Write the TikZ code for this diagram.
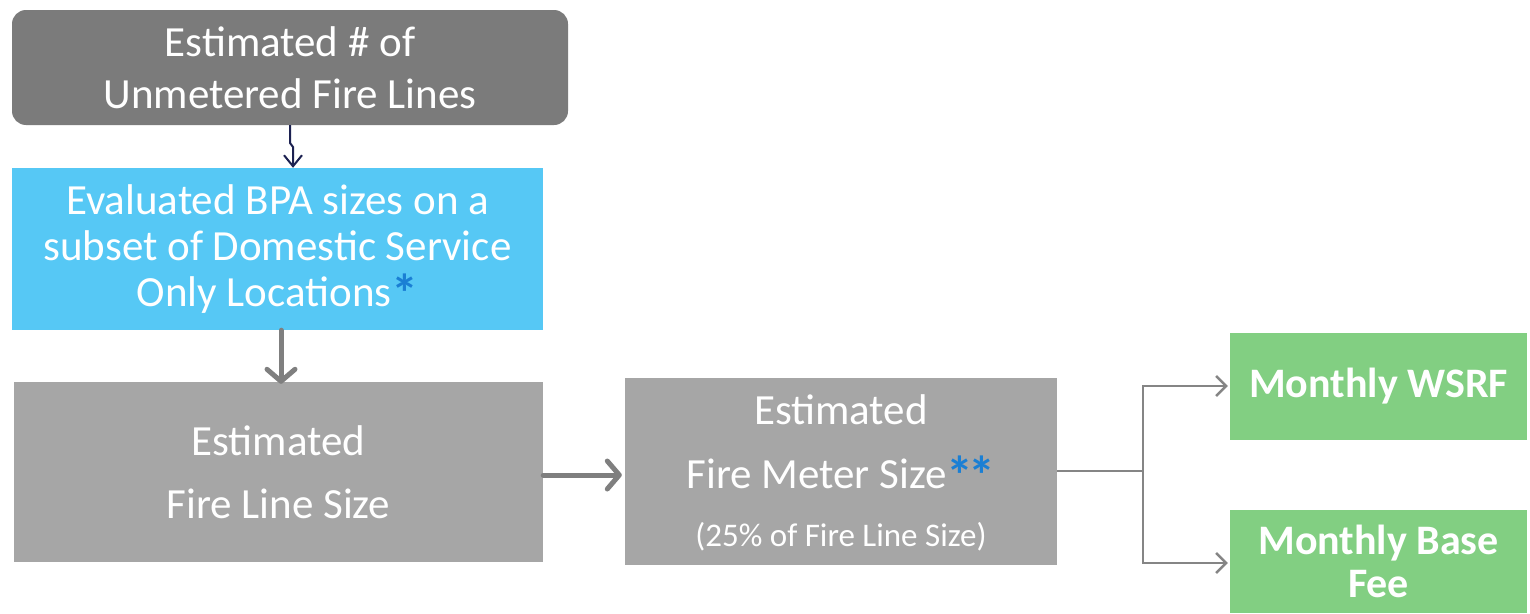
\documentclass[tikz,border=0pt]{standalone}
\usepackage{fontspec}
\setmainfont{Carlito}
\usetikzlibrary{arrows.meta}
\definecolor{darkbox}{HTML}{7B7B7B}
\definecolor{bluebox}{HTML}{56C8F5}
\definecolor{greybox}{HTML}{A6A6A6}
\definecolor{greenbox}{HTML}{82CF82}
\definecolor{starblue}{HTML}{1A7FD4}
\definecolor{navy}{HTML}{1C2151}
\definecolor{flowgrey}{HTML}{7F7F7F}
\definecolor{forkgrey}{HTML}{858585}
\tikzset{
  box/.style={inner sep=0pt, text=white, align=center, font=\fontsize{43}{46}\selectfont},
  thickflow/.style={draw=flowgrey, line width=5pt, line cap=round,
    -{Straight Barb[length=12pt, width=28pt, line cap=round, line join=round]}},
  forkflow/.style={draw=forkgrey, line width=2.5pt,
    -{Straight Barb[length=10pt, width=20pt]}},
  thinflow/.style={draw=navy, line width=2pt,
    -{Straight Barb[length=11pt, width=18pt]}}
}
% footnote marker: a larger bold blue asterisk
\newcommand{\bluestar}{\textcolor{starblue}{\bfseries\fontsize{54}{46}\selectfont\raisebox{-0.12em}{*}}}
\begin{document}
\begin{tikzpicture}[x=1pt, y=-1pt]
\useasboundingbox (0,0) rectangle (1530,613);
\fill[white] (0,0) rectangle (1530,613);

% boxes
\node[box, fill=darkbox, rounded corners=14pt, minimum width=556pt, minimum height=115pt,
  font=\fontsize{43}{52}\selectfont] (lines) at (290,67.5)
  {Estimated \# of\\Unmetered Fire Lines};
\node[box, fill=bluebox, minimum width=531pt, minimum height=162pt] (bpa) at (277.5,249)
  {Evaluated BPA sizes on a\\subset of Domestic Service\\Only Locations\bluestar};
\node[box, fill=greybox, minimum width=529pt, minimum height=180pt,
  font=\fontsize{43}{63}\selectfont] (linesize) at (278.5,472)
  {Estimated\\Fire Line Size};
\node[box, fill=greybox, minimum width=432pt, minimum height=187pt] (metersize) at (841,471.5) {};
\node[box, anchor=base] (m1) at (841,424) {Estimated};
\node[box, anchor=base] (m2) at (841,488) {Fire Meter Size\bluestar\kern-5pt\bluestar};
\node[box, anchor=base, font=\fontsize{33}{36}\selectfont] (m3) at (841,546) {(25\% of Fire Line Size)};
\node[box, fill=greenbox, minimum width=297pt, minimum height=107pt,
  font=\bfseries\fontsize{42}{44}\selectfont] (wsrf) at (1378.5,386.5) {Monthly WSRF};
\node[box, fill=greenbox, minimum width=297pt, minimum height=103pt,
  font=\bfseries\fontsize{42}{43}\selectfont] (base) at (1378.5,561.5) {Monthly Base\\Fee};

% connectors
\coordinate (j1) at (290,143);
\coordinate (j2) at (293,147);
\draw[thinflow] (lines.south -| j1) -- (j1) -- (j2) -- (j2 |- bpa.north);
\draw[thickflow] (bpa.south -| 281,0) -- ([yshift=-2pt]linesize.north -| 281,0);
\draw[thickflow] (linesize.east |- 0,475) -- ([xshift=-3pt]metersize.west |- 0,475);
\coordinate (fork) at (1143,471);
\draw[draw=forkgrey, line width=2.5pt] (metersize.east |- fork) -- (fork);
\draw[forkflow] (fork) -- (fork |- 0,386) -- ([xshift=-2pt]wsrf.west |- 0,386);
\draw[forkflow] (fork) -- (fork |- 0,563) -- ([xshift=-2pt]base.west |- 0,563);
\end{tikzpicture}
\end{document}
